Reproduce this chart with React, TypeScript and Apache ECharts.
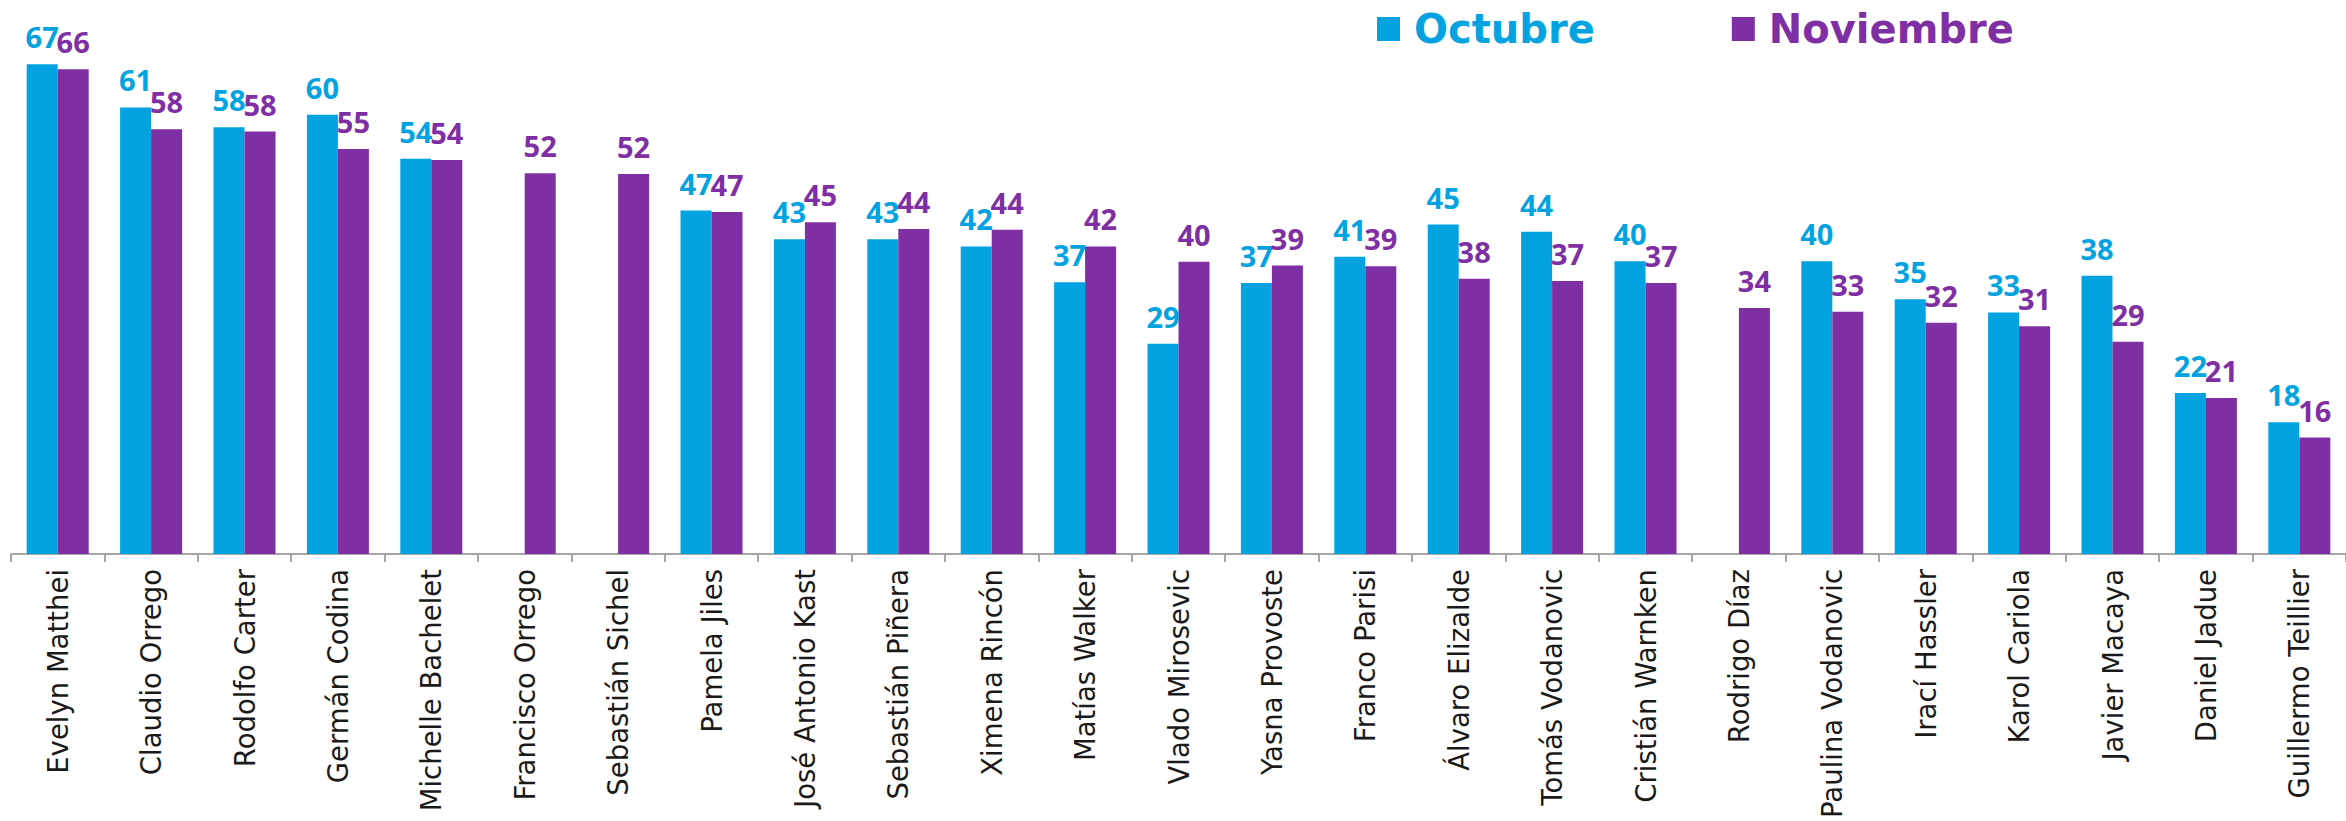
import React, { useEffect, useRef } from "react";
import * as echarts from "echarts";

const categories: string[] = [
  "Evelyn Matthei",
  "Claudio Orrego",
  "Rodolfo Carter",
  "Germán Codina",
  "Michelle Bachelet",
  "Francisco Orrego",
  "Sebastián Sichel",
  "Pamela Jiles",
  "José Antonio Kast",
  "Sebastián Piñera",
  "Ximena Rincón",
  "Matías Walker",
  "Vlado Mirosevic",
  "Yasna Provoste",
  "Franco Parisi",
  "Álvaro Elizalde",
  "Tomás Vodanovic",
  "Cristián Warnken",
  "Rodrigo Díaz",
  "Paulina Vodanovic",
  "Irací Hassler",
  "Karol Cariola",
  "Javier Macaya",
  "Daniel Jadue",
  "Guillermo Teillier",
];

const octubre: (number | null)[] = [
  66.9, 61.0, 58.3, 60.0, 54.0, null, null, 46.9, 43.0, 43.0, 42.0, 37.1, 28.7,
  37.0, 40.6, 45.0, 44.0, 40.0, null, 40.0, 34.8, 33.0, 38.0, 22.0, 18.0,
];

const noviembre: (number | null)[] = [
  66.2, 58.0, 57.7, 55.3, 53.8, 52.0, 51.9, 46.7, 45.3, 44.4, 44.3, 42.0, 39.9,
  39.4, 39.3, 37.6, 37.3, 37.0, 33.6, 33.1, 31.6, 31.1, 29.0, 21.3, 15.9,
];

const seriesNames: string[] = ["Octubre", "Noviembre"];

const CYAN = "#02A3E0";
const PURPLE = "#7F2FA4";

export default function App() {
  const ref = useRef<HTMLDivElement>(null);

  useEffect(() => {
    if (!ref.current) return;
    const chart = echarts.init(ref.current, null, { renderer: "svg" });

    const labelFor = (color: string) => ({
      show: true,
      position: "top" as const,
      distance: 13,
      color,
      fontFamily: "Open Sans",
      fontWeight: 700 as const,
      fontSize: 29,
      formatter: (p: any) =>
        p.value == null ? "" : String(Math.round(Number(p.value))),
    });

    chart.setOption({
      animation: false,
      backgroundColor: "#ffffff",
      legend: {
        left: 1372,
        top: 4,
        itemWidth: 23,
        itemHeight: 24,
        itemGap: 137,
        icon: "rect",
        selectedMode: false,
        data: [
          {
            name: seriesNames[0],
            textStyle: { color: CYAN },
          },
          {
            name: seriesNames[1],
            textStyle: { color: PURPLE },
          },
        ],
        textStyle: {
          fontFamily: "DejaVu Sans",
          fontWeight: 700,
          fontSize: 40,
          lineHeight: 40,
          padding: [0, 0, 0, 9],
        },
      },
      grid: {
        left: 11,
        top: 41.5,
        width: 2350,
        height: 514.5,
        containLabel: false,
      },
      xAxis: {
        type: "category",
        data: categories,
        axisLine: { show: true, lineStyle: { color: "#A6A6A6", width: 2 } },
        axisTick: { show: true, length: 8, lineStyle: { color: "#A6A6A6", width: 2 } },
        axisLabel: {
          rotate: 90,
          interval: 0,
          margin: 15,
          color: "#1a1a1a",
          fontFamily: "DejaVu Sans",
          fontSize: 27.5,
        },
        splitLine: { show: false },
      },
      yAxis: {
        type: "value",
        min: 0,
        max: 70,
        show: false,
        splitLine: { show: false },
      },
      series: [
        {
          name: seriesNames[0],
          type: "bar",
          data: octubre,
          barWidth: 31,
          barGap: "0%",
          itemStyle: { color: CYAN },
          label: labelFor(CYAN),
        },
        {
          name: seriesNames[1],
          type: "bar",
          data: noviembre,
          barWidth: 31,
          barGap: "0%",
          itemStyle: { color: PURPLE },
          label: labelFor(PURPLE),
        },
      ],
    });

    return () => {
      chart.dispose();
    };
  }, []);

  return (
    <div
      ref={ref}
      style={{
        position: "fixed",
        left: 0,
        top: 0,
        width: 2346,
        height: 821,
        background: "#fff",
      }}
    />
  );
}
